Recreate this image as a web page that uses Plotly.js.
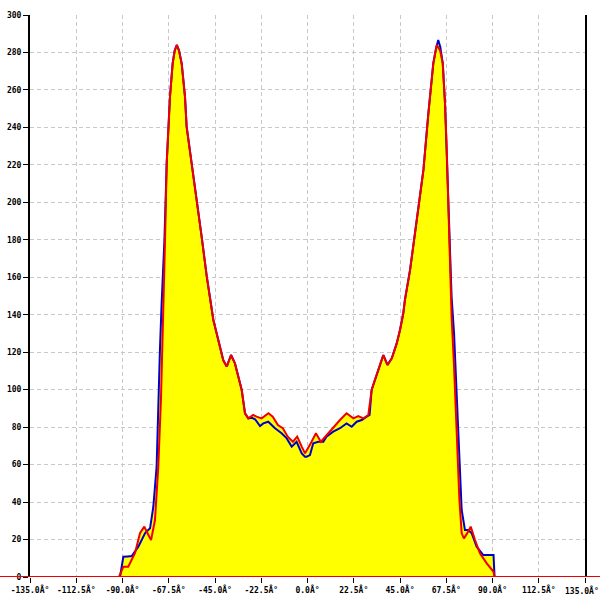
<!DOCTYPE html>
<html>
<head>
<meta charset="utf-8">
<script src="https://cdn.plot.ly/plotly-3.0.1.min.js"></script>
<style>html,body{margin:0;padding:0;background:#fff;}#chart{width:600px;height:600px;}</style>
</head>
<body>
<div id="chart"></div>
<script>
var blueX = [-91.2,-89.6,-87.5,-85.5,-82.3,-79,-76.6,-75,-73.4,-72.6,-71.8,-71.0,-69.6,-68.5,-66.9,-65.6,-64.6,-63.6,-62.5,-61.2,-59.6,-58.8,-56.3,-53.9,-51.5,-49.0,-47.4,-45.8,-43.4,-41.0,-39.3,-37.2,-35.3,-33.3,-32.0,-30.4,-28.8,-27.0,-25.5,-23.1,-21.5,-19.1,-15.8,-12.6,-10.1,-7.7,-5.3,-2.8,-1.2,-0.4,1.2,2.8,5.3,7.7,9.2,12.5,15.8,19.0,21.5,23.9,26.4,28.8,30.2,31.2,32.8,34.5,36.9,38.9,41.0,43.4,45,46.6,47.4,49.9,53.2,56.4,58.8,61.2,62.5,63.6,64.6,65.8,66.9,67.7,68.5,69.3,70.1,71.3,72.6,73.9,75.0,76.6,78.2,79.9,82.3,85.5,88,90.5,91];
var blueY = [0,10.8,11.0,11.2,16.2,23.4,26,37.5,58.9,94.5,121,145,180,220.8,256.4,274.2,281,284,281,274,256.4,240.4,220.8,203,181.7,160.3,147.9,137.2,126.5,115.8,112.3,118.5,114,106,99.8,87.4,84.7,85,84.2,80.6,82,82.9,79.4,76.7,74,69.6,72.2,66,64.2,64.2,65.1,71.4,72.2,72.2,74.9,77.6,79.4,82,80.2,82.9,83.8,85.6,86.5,99.8,105.2,110.5,118.5,113.2,116.7,124.7,131.9,140.8,147.9,163.9,190.6,217.3,247.5,274.2,282,286.7,283,274.2,252.9,229.7,203,176.3,149.6,130,94.5,58.9,35.8,25.1,25.1,23.3,16.2,11.7,11.7,11.7,0];

var redX = [-91.7,-89.6,-87.2,-83.9,-81.5,-79.4,-77.4,-76.1,-74.2,-72.6,-71.3,-70.1,-69.3,-68.5,-66.9,-65.6,-64.6,-63.6,-62.5,-61.2,-59.6,-58.8,-56.3,-53.9,-51.5,-49.0,-47.4,-45.8,-43.4,-41.0,-39.3,-37.2,-35.3,-33.3,-32.0,-30.4,-28.8,-26.4,-24.8,-22.3,-19.0,-16.9,-14.4,-12.0,-9.6,-7.1,-5.0,-2.8,-1.2,1.6,4.1,6.5,10.1,12.5,15.8,19.0,22.3,24.7,27.2,29.6,31.2,32.8,34.5,36.9,38.9,41.0,43.4,45,46.6,47.4,49.9,53.2,56.4,58.8,61.2,62.9,64.5,65.8,66.9,67.7,68.5,69.3,70.1,71.3,72.6,73.9,75.0,76.1,77.5,79.4,81.5,83.9,87.2,90.5,91.0];
var redY = [0,5.5,5.5,12.8,23.4,26.9,22.4,19.7,30.4,58.9,94.5,139,180,220.8,256.4,274.2,281,284,281,274,256.4,240.4,220.8,203,181.7,160.3,147.9,137.2,126.5,115.8,112.3,118.5,114,106,99.8,87.4,84.7,86.5,85.6,84.7,87.4,85.6,81.1,79.4,74.9,72.2,74.9,69.6,66,71.4,76.7,72.2,76.7,80.2,83.8,87.4,84.7,85.9,84.7,86.5,99.8,105.2,110.5,118.5,113.2,116.7,124.7,131.9,140.8,147.9,163.9,190.6,217.3,247.5,274.2,284,281,274.2,252.9,229.7,203,176.3,139,112.3,76.7,41.1,23.3,20.6,23,26.9,19.7,12.6,7.3,2.8,0];

var tickVals = [-135,-112.5,-90,-67.5,-45,-22.5,0,22.5,45,67.5,90,112.5,135];
var tickText = ["-135.0Â°","-112.5Â°","-90.0Â°","-67.5Â°","-45.0Â°","-22.5Â°","0.0Â°","22.5Â°","45.0Â°","67.5Â°","90.0Â°","112.5Â°","135.0Â°"];
var yTickVals = [0,20,40,60,80,100,120,140,160,180,200,220,240,260,280,300];

// last x label sits at the right page edge: drawn as a right-anchored annotation
var axisText = tickText.slice(0, -1).concat([""]);
var lastLabel = tickText[tickText.length - 1];

var fillColor = "#ffff00";
var traces = [
  {x: blueX, y: blueY, type: "scatter", mode: "lines", fill: "tozeroy", fillcolor: fillColor, line: {width: 0, color: fillColor}, hoverinfo: "skip"},
  {x: redX, y: redY, type: "scatter", mode: "lines", fill: "tozeroy", fillcolor: fillColor, line: {width: 0, color: fillColor}, hoverinfo: "skip"},
  {x: blueX, y: blueY, type: "scatter", mode: "lines", line: {width: 2, color: "#0000cc"}},
  {x: redX, y: redY, type: "scatter", mode: "lines", line: {width: 2, color: "#ee0000"}}
];

var tickFont = {family: "DejaVu Sans Mono", size: 8, weight: "bold", color: "#000"};
var layout = {
  width: 600, height: 600,
  margin: {l: 30, r: 15, t: 15, b: 23, pad: 0},
  paper_bgcolor: "#fff", plot_bgcolor: "#fff",
  showlegend: false,
  xaxis: {
    range: [-135, 135], tickmode: "array", tickvals: tickVals, ticktext: axisText,
    ticks: "outside", ticklen: 5, tickcolor: "#000", tickwidth: 1,
    showgrid: true, gridcolor: "#c8c8c8", gridwidth: 1, griddash: "4px,3px",
    zeroline: false, showline: false, tickfont: tickFont, fixedrange: true,
    ticklabeloverflow: "allow"
  },
  yaxis: {
    range: [0, 300], tickmode: "array", tickvals: yTickVals,
    ticks: "outside", ticklen: 5, tickcolor: "#000", tickwidth: 1,
    showgrid: true, gridcolor: "#c8c8c8", gridwidth: 1, griddash: "4px,3px",
    zeroline: false, showline: true, linecolor: "#000", linewidth: 2, mirror: true,
    tickfont: tickFont, fixedrange: true, ticklabeloverflow: "allow"
  },
  annotations: [
    {text: lastLabel, xref: "paper", yref: "paper", x: 1 + 15/555, y: 0,
     xanchor: "right", yanchor: "middle", yshift: -13, showarrow: false,
     font: tickFont, borderpad: 0}
  ],
  shapes: [
    {type: "line", xref: "paper", yref: "y", x0: -30/555, x1: 1 + 15/555, y0: 0, y1: 0,
     line: {color: "#ee0000", width: 2}, layer: "above"}
  ]
};
Plotly.newPlot("chart", traces, layout, {displayModeBar: false, staticPlot: true});
</script>
</body>
</html>
